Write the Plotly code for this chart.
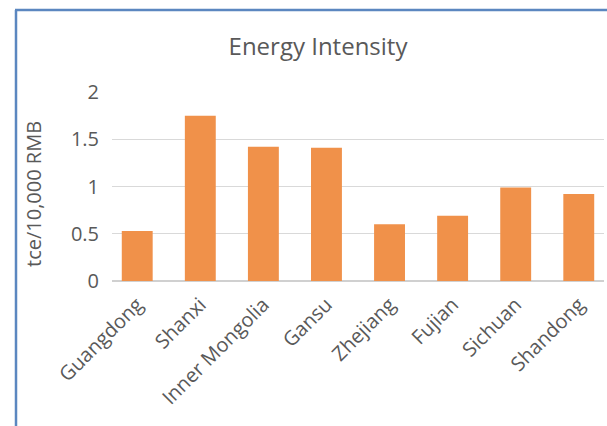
import plotly.graph_objects as go

provinces = ["Guangdong", "Shanxi", "Inner Mongolia", "Gansu", "Zhejiang", "Fujian", "Sichuan", "Shandong"]
energy_intensity = [0.53, 1.75, 1.42, 1.41, 0.60, 0.69, 0.99, 0.92]
y_ticks = [0, 0.5, 1, 1.5, 2]
y_tick_labels = ["0", "0.5", "1", "1.5", "2"]

W, H = 607, 426
ML, MR, MT, MB = 112, 3, 92, 145
PW = W - ML - MR
PH = H - MT - MB

def px(x):
    return (x - ML) / PW

def py(y):
    return (H - MB - y) / PH

FONT = "Open Sans"
GREY = "#595959"
BORDER = "#5B87C0"

fig = go.Figure(go.Bar(
    x=provinces,
    y=energy_intensity,
    marker=dict(color="#F0914A", line=dict(width=0)),
    width=0.49,
))

fig.update_layout(
    width=W, height=H,
    margin=dict(l=ML, r=MR, t=MT, b=MB),
    paper_bgcolor="white",
    plot_bgcolor="white",
    showlegend=False,
    font=dict(family=FONT, color=GREY, size=16),
    title=dict(
        text="Energy Intensity",
        font=dict(family=FONT, size=24, color=GREY),
        x=318 / W, xref="container", xanchor="center",
        y=1 - 47 / H, yref="container", yanchor="middle",
    ),
    xaxis=dict(
        range=[-0.4, 7.4],
        tickangle=-45,
        tickfont=dict(family=FONT, size=20, color=GREY),
        showgrid=False,
        showline=False,
        zeroline=False,
        ticks="outside", ticklen=3, tickcolor="rgba(0,0,0,0)",
    ),
    yaxis=dict(
        range=[0, 2],
        tickvals=y_ticks,
        ticktext=y_tick_labels,
        tickfont=dict(family=FONT, size=20, color=GREY),
        showgrid=True, gridcolor="#D9D9D9", gridwidth=1,
        zeroline=True, zerolinecolor="#D0D0D0", zerolinewidth=2,
        showline=False,
        ticks="outside", ticklen=8, tickcolor="rgba(0,0,0,0)",
    ),
    shapes=[
        dict(type="line", xref="paper", yref="paper",
             x0=px(16), x1=px(16), y0=py(10), y1=py(430),
             line=dict(color=BORDER, width=2.5)),
        dict(type="line", xref="paper", yref="paper",
             x0=px(15), x1=px(610), y0=py(10), y1=py(10),
             line=dict(color=BORDER, width=2.5)),
    ],
    annotations=[
        dict(text="tce/10,000 RMB", xref="paper", yref="paper",
             x=px(33), y=py(194), textangle=-90, showarrow=False,
             xanchor="center", yanchor="middle",
             font=dict(family=FONT, size=20, color=GREY)),
    ],
)

fig.write_html("out.html")
